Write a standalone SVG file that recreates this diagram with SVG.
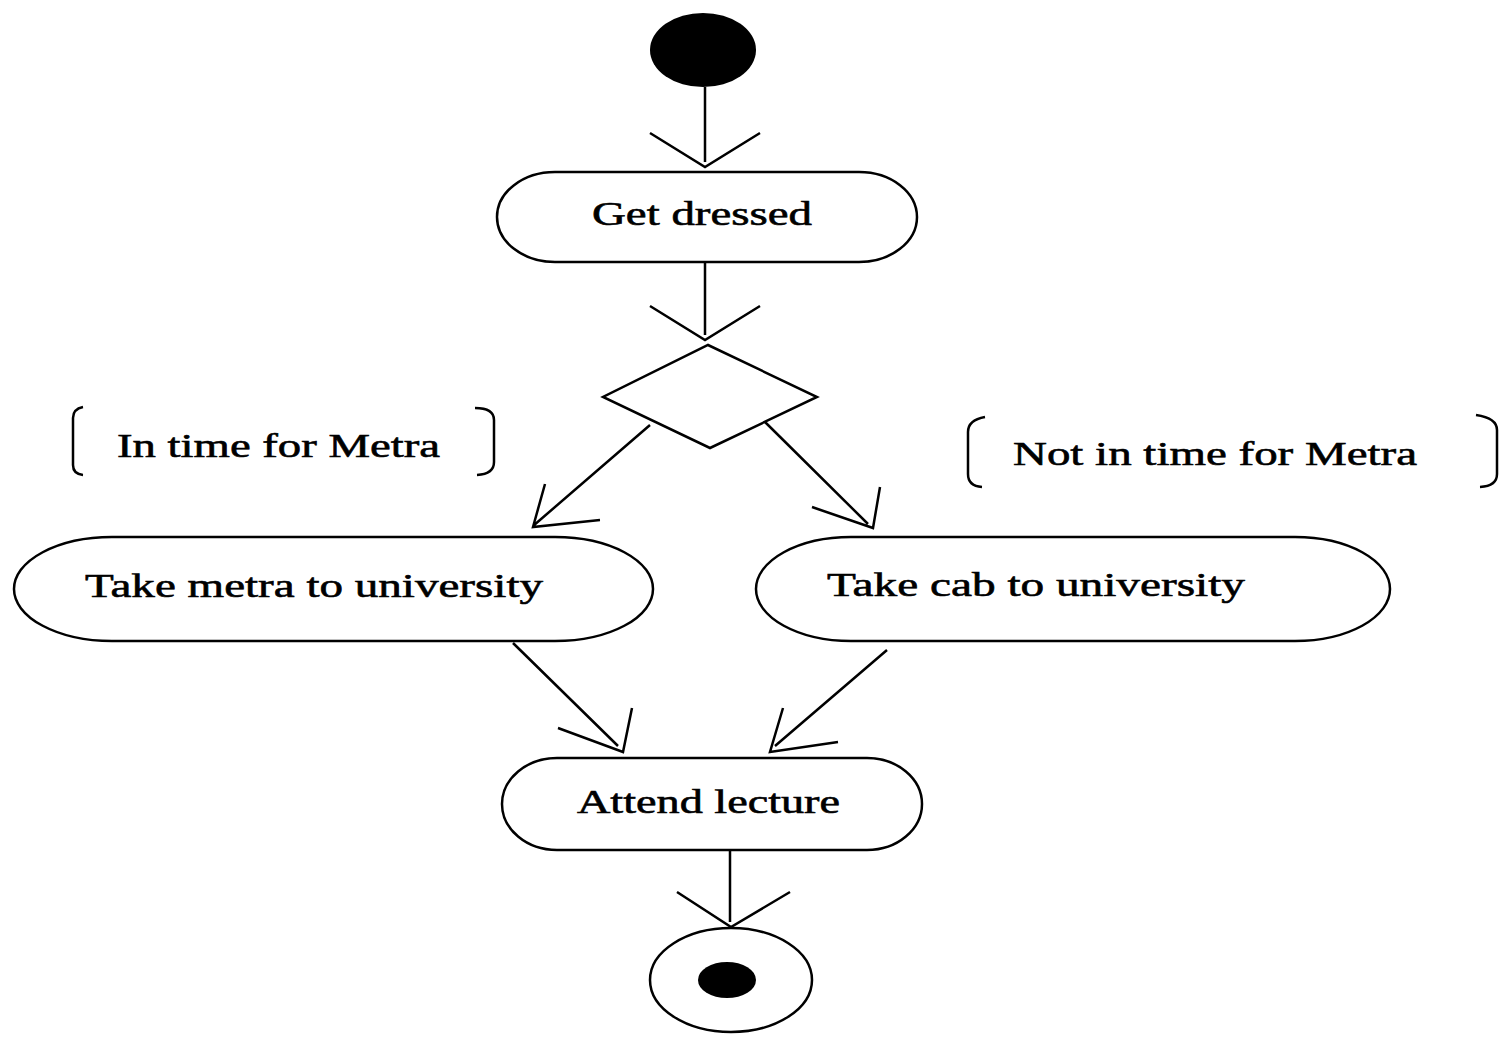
<svg xmlns="http://www.w3.org/2000/svg" width="1499" height="1037" viewBox="0 0 1499 1037">
<style>
.shape{fill:#fff;stroke:#000;stroke-width:2.5}
.edge{fill:none;stroke:#000;stroke-width:2.5}
.lbl{font-family:"Liberation Serif","Times New Roman",serif;font-size:34px;fill:#000;stroke:#000;stroke-width:0.6}
.br{fill:none;stroke:#000;stroke-width:2.5}
</style>
<rect width="1499" height="1037" fill="#fff"/>
<g id="start"><ellipse cx="703" cy="50" rx="53" ry="37" fill="#000"/></g>
<g id="get-dressed"><rect class="shape" x="497" y="172" width="420" height="90" rx="58" ry="45"/><text class="lbl" x="592" y="225" textLength="220" lengthAdjust="spacingAndGlyphs">Get dressed</text></g>
<g id="decision"><polygon class="shape" points="708,345 817,397 710,448 603,397"/></g>
<g id="guard-left"><path class="br" d="M83,407 Q73,409 73,418 L73,465 Q73,474 83,475"/><text class="lbl" x="117" y="457" textLength="323" lengthAdjust="spacingAndGlyphs">In time for Metra</text><path class="br" d="M475,408 Q494,408 494,420 L494,462 Q494,474 477,475"/></g>
<g id="guard-right"><path class="br" d="M985,417 Q968,420 968,432 L968,474 Q968,486 982,487"/><text class="lbl" x="1013" y="465" textLength="404" lengthAdjust="spacingAndGlyphs">Not in time for Metra</text><path class="br" d="M1476,415 Q1497,418 1497,430 L1497,474 Q1497,486 1480,487"/></g>
<g id="take-metra"><rect class="shape" x="14" y="537" width="639" height="104" rx="98" ry="52"/><text class="lbl" x="85" y="597" textLength="458" lengthAdjust="spacingAndGlyphs">Take metra to university</text></g>
<g id="take-cab"><rect class="shape" x="756" y="537" width="634" height="104" rx="95" ry="52"/><text class="lbl" x="827" y="596" textLength="418" lengthAdjust="spacingAndGlyphs">Take cab to university</text></g>
<g id="attend-lecture"><rect class="shape" x="502" y="758" width="420" height="92" rx="55" ry="46"/><text class="lbl" x="577" y="813" textLength="263" lengthAdjust="spacingAndGlyphs">Attend lecture</text></g>
<g id="end"><ellipse class="shape" cx="731" cy="980" rx="81" ry="52"/><ellipse cx="727" cy="980" rx="29" ry="18" fill="#000"/></g>
<g id="connectors">
<path class="edge" d="M705,87 L705,162 M650,133 L705,167 L760,133"/>
<path class="edge" d="M705,262 L705,335 M650,306 L705,340 L760,306"/>
<path class="edge" d="M650,425 L533,526 M545,484 L533,527 L600,520"/>
<path class="edge" d="M765,422 L868,524 M880,487 L873,528 L812,507"/>
<path class="edge" d="M513,643 L618,746 M632,708 L623,752 L558,728"/>
<path class="edge" d="M887,650 L775,746 M783,708 L770,752 L838,742"/>
<path class="edge" d="M730,850 L730,922 M677,892 L731,927 L790,892"/>
</g>
</svg>
